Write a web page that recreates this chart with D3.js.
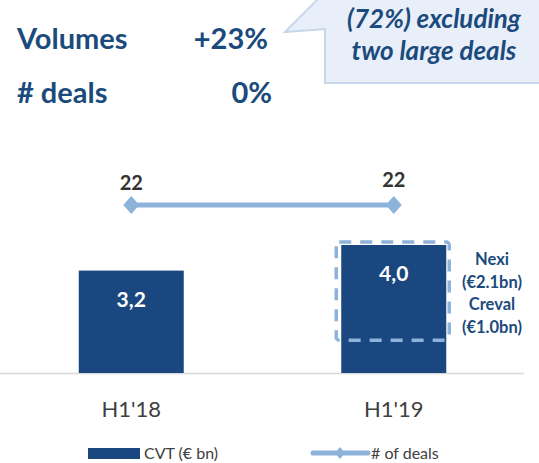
<!DOCTYPE html>
<html>
<head>
<meta charset="utf-8">
<script src="https://cdn.jsdelivr.net/npm/d3@7"></script>
<style>
  html, body { margin: 0; padding: 0; background: #fff; }
  svg { display: block; }
  text { font-family: Lato, "Open Sans", sans-serif; }
</style>
</head>
<body>
<svg id="chart" width="539" height="463"></svg>
<script>
// ---- data ----
const categories = ["H1'18", "H1'19"];
const cvtValues = [3.2, 4.0];
const cvtLabels = ["3,2", "4,0"];
const dealCounts = [22, 22];
const dealLabels = ["22", "22"];
const largeDeals = ["Nexi", "(€2.1bn)", "Creval", "(€1.0bn)"];
const largeDealsTotal = 3.1;
const headerLabels = ["Volumes", "# deals"];
const headerValues = ["+23%", "0%"];
const calloutLines = ["(72%) excluding", "two large deals"];
const legendLabels = ["CVT (€ bn)", "# of deals"];

// ---- styles ----
const DARK = "#1a4780";
const TEXTBLUE = "#1b4a7d";
const LIGHT = "#8db3da";
const GREY = "#404040";

const svg = d3.select("#chart");

const x = d3.scaleBand().domain(categories).range([0, 525])
  .paddingInner(0.6).paddingOuter(0.3);
const y = d3.scaleLinear().domain([0, 4]).range([373, 245]);
const yDeals = d3.scaleLinear().domain([0, 30]).range([373, 144]);

// header
const hdr = svg.append("g");
headerLabels.forEach((t, i) => {
  hdr.append("text").attr("x", 17).attr("y", 49 + i * 54)
    .attr("font-size", 29).attr("font-weight", 700).attr("fill", TEXTBLUE).text(t);
});
headerValues.forEach((t, i) => {
  hdr.append("text").attr("x", i === 0 ? 268 : 272).attr("y", 49 + i * 54)
    .attr("text-anchor", "end")
    .attr("font-size", 29).attr("font-weight", 700).attr("fill", TEXTBLUE).text(t);
});

// callout
svg.append("path")
  .attr("d", "M325,-5 L545,-5 L545,83 L325,83 L325,29 L285,32 L322,-5 Z")
  .attr("fill", "#e8eff8").attr("stroke", "#c6d7ea").attr("stroke-width", 2);
calloutLines.forEach((t, i) => {
  svg.append("text").attr("x", 434).attr("y", 28 + i * 32)
    .attr("text-anchor", "middle").attr("font-size", 26)
    .attr("font-weight", 700).attr("font-style", "italic")
    .attr("fill", TEXTBLUE).text(t);
});

// axis baseline
svg.append("line").attr("x1", 0).attr("x2", 524)
  .attr("y1", y(0) + 0.5).attr("y2", y(0) + 0.5)
  .attr("stroke", "#d9d9d9").attr("stroke-width", 1.5);

// bars
svg.selectAll("rect.bar").data(cvtValues).join("rect")
  .attr("class", "bar")
  .attr("x", (d, i) => x(categories[i]))
  .attr("width", x.bandwidth())
  .attr("y", d => y(d))
  .attr("height", d => y(0) - y(d))
  .attr("fill", DARK);

svg.selectAll("text.barlbl").data(cvtValues).join("text")
  .attr("class", "barlbl")
  .attr("x", (d, i) => x(categories[i]) + x.bandwidth() / 2)
  .attr("y", d => y(d) + 36)
  .attr("text-anchor", "middle").attr("font-size", 21)
  .attr("font-weight", 700).attr("fill", "#fff")
  .text((d, i) => cvtLabels[i]);

// dashed box around the two large deals
const bx = x(categories[1]);
svg.append("rect")
  .attr("x", bx - 5).attr("width", x.bandwidth() + 8)
  .attr("y", y(cvtValues[1]) - 3)
  .attr("height", y(cvtValues[1] - largeDealsTotal) - 4 - (y(cvtValues[1]) - 3))
  .attr("rx", 3)
  .attr("fill", "none").attr("stroke", LIGHT).attr("stroke-width", 3.5)
  .attr("stroke-dasharray", "12,9");

largeDeals.forEach((t, i) => {
  svg.append("text").attr("x", 492).attr("y", 265 + i * 22.5)
    .attr("text-anchor", "middle").attr("font-size", 16.5)
    .attr("font-weight", 700).attr("fill", TEXTBLUE).text(t);
});

// deals line
const cx = (i) => x(categories[i]) + x.bandwidth() / 2;
const line = d3.line().x((d, i) => cx(i)).y(d => yDeals(d));
svg.append("path").datum(dealCounts).attr("d", line)
  .attr("fill", "none").attr("stroke", LIGHT).attr("stroke-width", 5);
const diamond = (w, h) => `M0,${-h} L${w},0 L0,${h} L${-w},0 Z`;
svg.selectAll("path.mk").data(dealCounts).join("path")
  .attr("class", "mk")
  .attr("transform", (d, i) => `translate(${cx(i)},${yDeals(d)})`)
  .attr("d", diamond(8, 9)).attr("fill", LIGHT);
svg.selectAll("text.dl").data(dealCounts).join("text")
  .attr("class", "dl")
  .attr("x", (d, i) => cx(i))
  .attr("y", (d, i) => yDeals(d) - (i === 0 ? 15 : 18))
  .attr("text-anchor", "middle").attr("font-size", 20)
  .attr("font-weight", 700).attr("fill", "#333")
  .text((d, i) => dealLabels[i]);

// x-axis labels
categories.forEach((c, i) => {
  svg.append("text").attr("x", cx(i)).attr("y", 417)
    .attr("text-anchor", "middle").attr("font-size", 22)
    .attr("fill", GREY).text(c);
});

// legend
svg.append("rect").attr("x", 88).attr("y", 448).attr("width", 52).attr("height", 11)
  .attr("fill", DARK);
svg.append("text").attr("x", 144).attr("y", 459).attr("font-size", 16)
  .attr("fill", GREY).text(legendLabels[0]);
svg.append("line").attr("x1", 313).attr("x2", 368).attr("y1", 453).attr("y2", 453)
  .attr("stroke", LIGHT).attr("stroke-width", 5).attr("stroke-linecap", "round");
svg.append("path").attr("transform", "translate(340,453)").attr("d", diamond(5, 6))
  .attr("fill", LIGHT);
svg.append("text").attr("x", 371).attr("y", 459).attr("font-size", 16)
  .attr("fill", GREY).text(legendLabels[1]);
</script>
</body>
</html>
